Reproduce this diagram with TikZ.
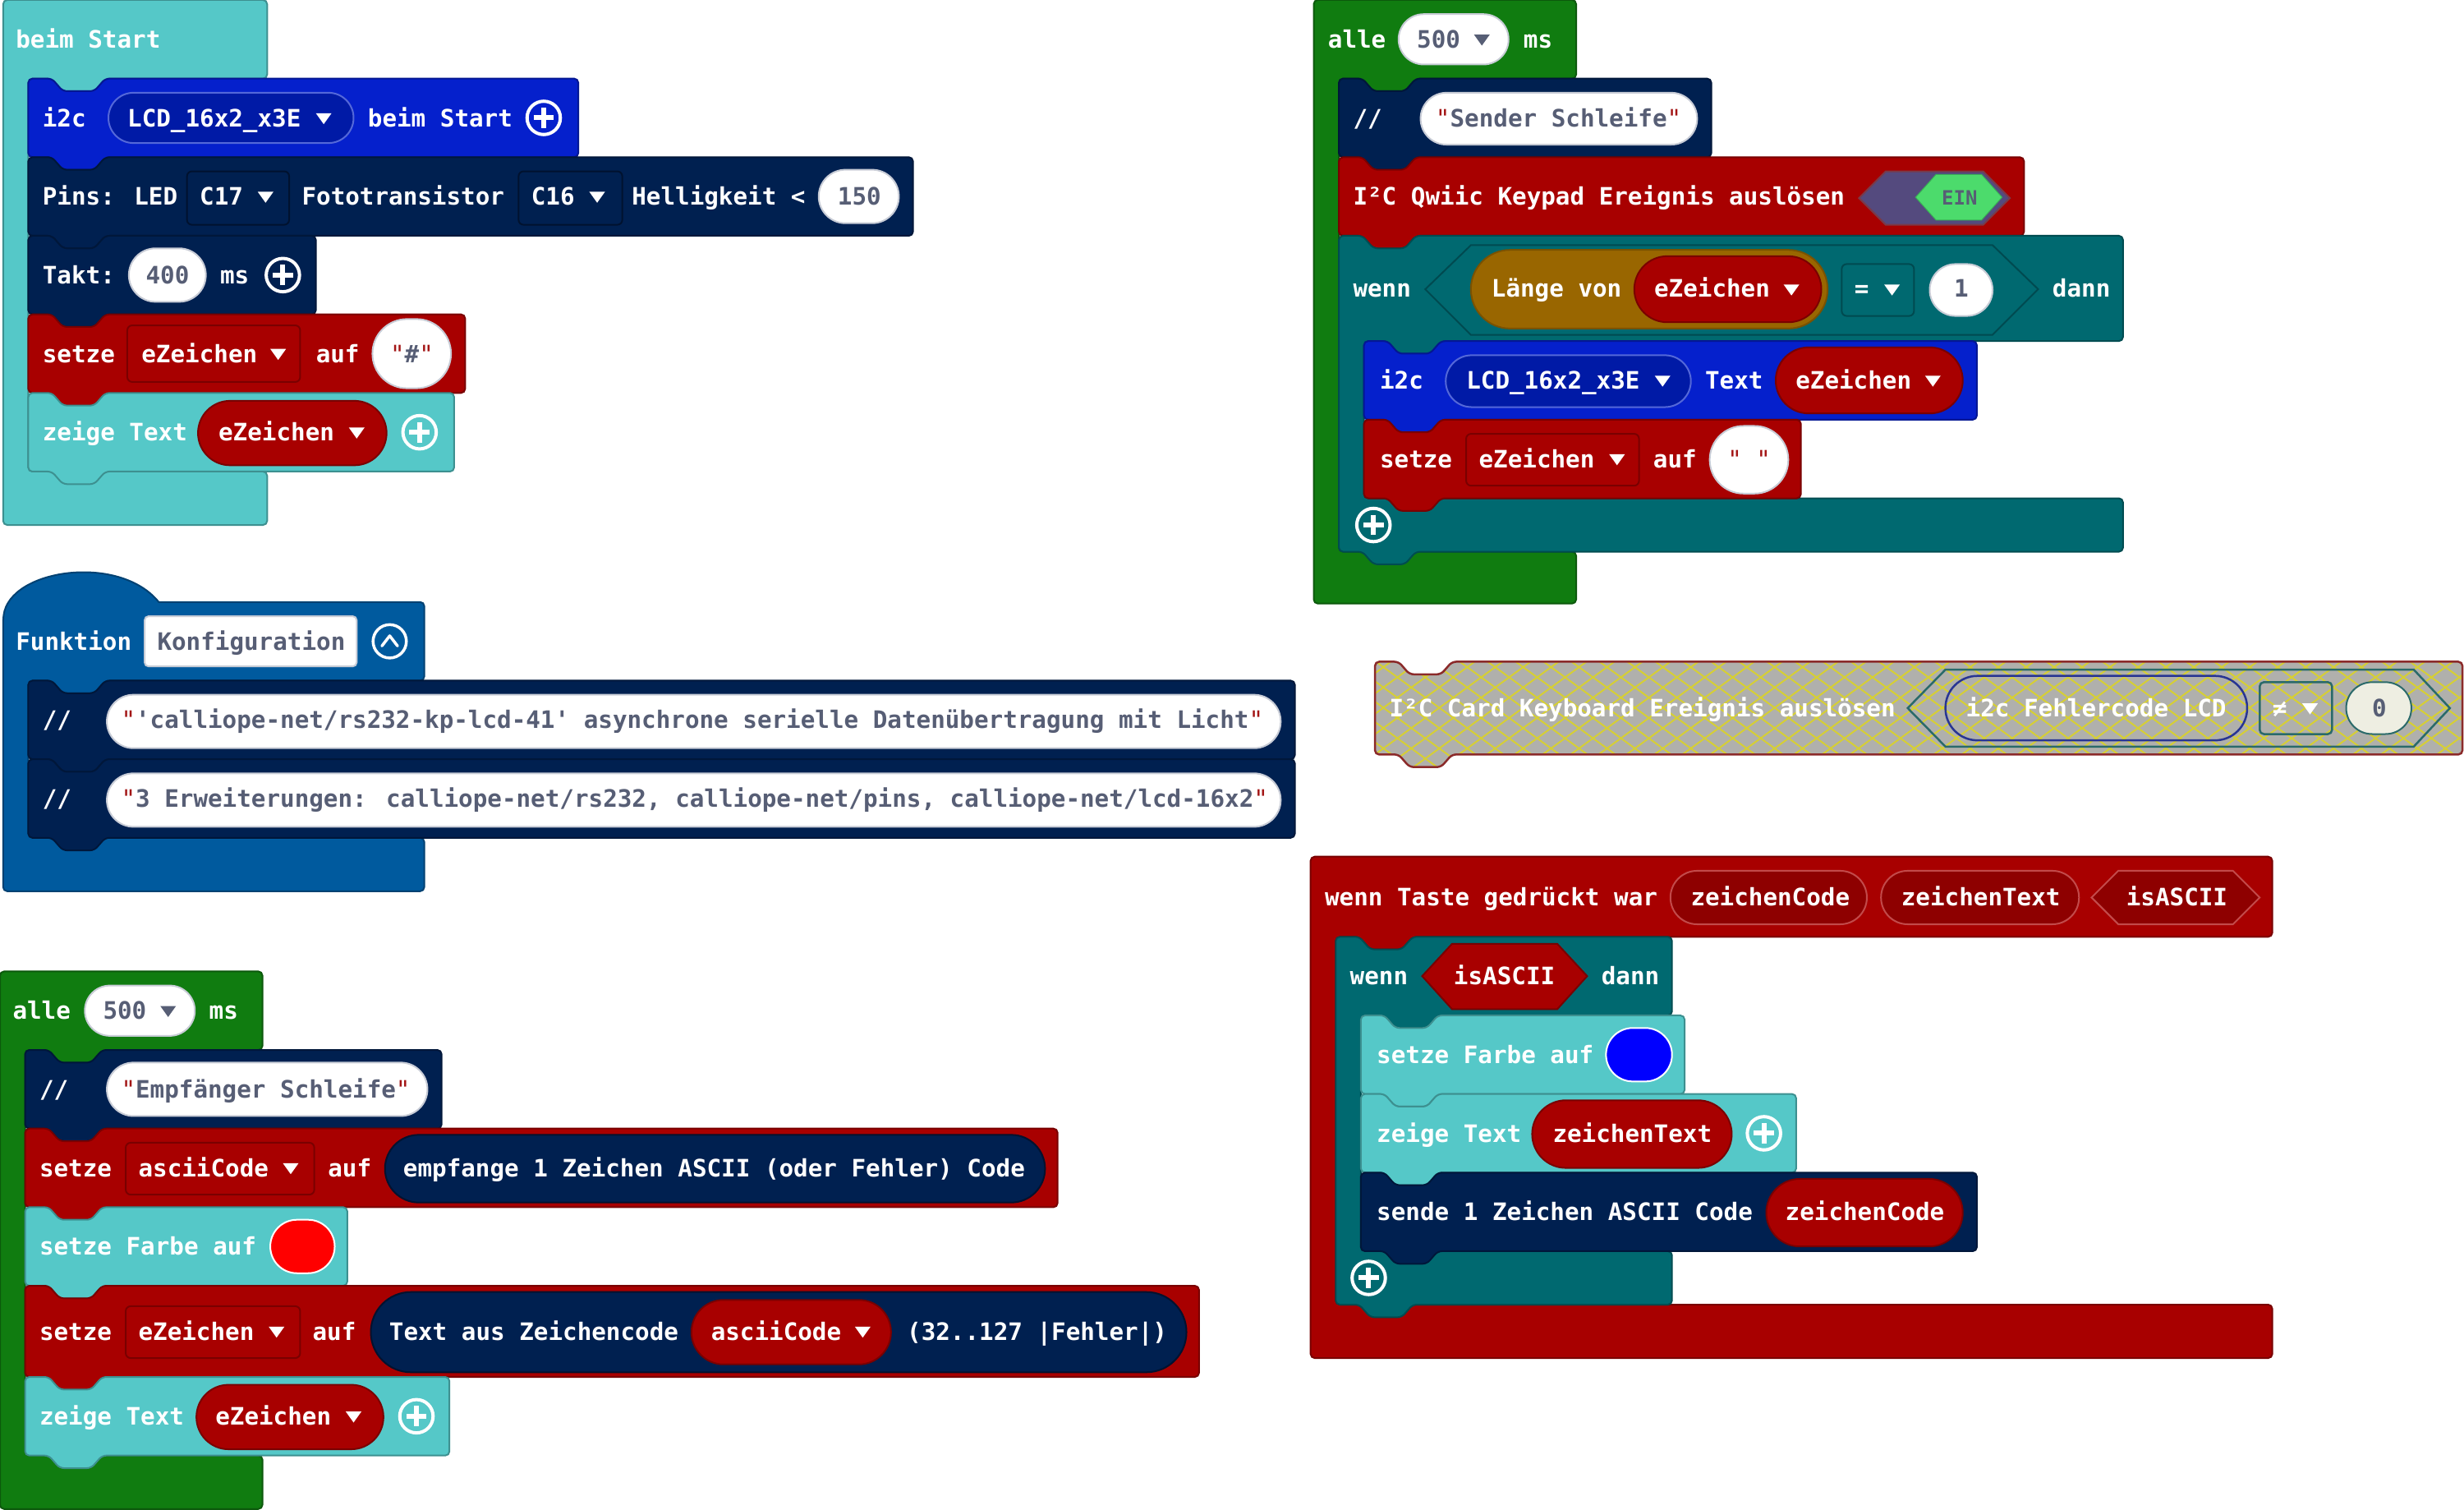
\documentclass[tikz,border=0pt]{standalone}
\usepackage{fontspec}
\newfontfamily\bfnt{DejaVu Sans Mono}
\usetikzlibrary{patterns.meta}
\definecolor{cTeal}{HTML}{55C8C8}
\definecolor{cBlue}{HTML}{0520CC}
\definecolor{cBlueDD}{HTML}{001AA6}
\definecolor{cBlueLine}{HTML}{5468D9}
\definecolor{cNavy}{HTML}{002050}
\definecolor{cNavyLine}{HTML}{00122F}
\definecolor{cRed}{HTML}{A80000}
\definecolor{cRedLine}{HTML}{7A0000}
\definecolor{cGreen}{HTML}{107C10}
\definecolor{cFunc}{HTML}{005A9E}
\definecolor{cLogic}{HTML}{006970}
\definecolor{cLogicLine}{HTML}{004A50}
\definecolor{cBrown}{HTML}{996600}
\definecolor{cBrownLine}{HTML}{7A5200}
\definecolor{cPurple}{HTML}{544A7E}
\definecolor{cPurpleLine}{HTML}{7A3A48}
\definecolor{cEin}{HTML}{4CDB6C}
\definecolor{cEinLine}{HTML}{3AB055}
\definecolor{cGrey}{HTML}{575E75}
\definecolor{cQuote}{HTML}{A31515}
\definecolor{cParam}{HTML}{8E0000}
\definecolor{cParamLine}{HTML}{C24A4A}
\definecolor{cPillLine}{HTML}{C8CCD6}
\definecolor{cDis}{HTML}{B0B0AC}
\definecolor{cDisY}{HTML}{D6CF34}
\definecolor{cDisLine}{HTML}{8B2A2A}
\definecolor{cDisHex}{HTML}{2A6A6A}
\definecolor{cDisPill}{HTML}{283593}
\definecolor{cDisZero}{HTML}{EEEEE2}
\def\uu{1.91327pt}
\newcounter{nn}
\newcommand\T[3][white]{\stepcounter{nn}\edef\tmpname{t\arabic{nn}}\node[lbl,text=#1] (\tmpname) at (#2) {#3};}
\newcommand\q{{\mdseries\color{cQuote}"}}
\newcommand\stmtpath[4]{(#1,#2) -- ({#1+15},#2) -- ({#1+22},{#2+8}) -- ({#1+42},{#2+8}) -- ({#1+49},#2) -- ({#1+#3},#2) -- ({#1+#3},{#2+#4}) -- ({#1+49},{#2+#4}) -- ({#1+42},{#2+#4+8}) -- ({#1+22},{#2+#4+8}) -- ({#1+15},{#2+#4}) -- (#1,{#2+#4}) -- cycle}
\newcommand\stmt[5]{\path[blk=#1] \stmtpath{#2}{#3}{#4}{#5};}
\newcommand\evtpath[6]{(#1,#2) -- ({#1+#3},#2) -- ({#1+#3},{#2+#4}) -- ({#1+65},{#2+#4}) -- ({#1+58},{#2+#4+8}) -- ({#1+38},{#2+#4+8}) -- ({#1+31},{#2+#4}) -- ({#1+16},{#2+#4}) -- ({#1+16},{#2+#4+#5}) -- ({#1+#3},{#2+#4+#5}) -- ({#1+#3},{#2+#4+#5+#6}) -- (#1,{#2+#4+#5+#6}) -- cycle}
\newcommand\nestpath[6]{(#1,#2) -- ({#1+15},#2) -- ({#1+22},{#2+8}) -- ({#1+42},{#2+8}) -- ({#1+49},#2) -- ({#1+#3},#2) -- ({#1+#3},{#2+#4}) -- ({#1+65},{#2+#4}) -- ({#1+58},{#2+#4+8}) -- ({#1+38},{#2+#4+8}) -- ({#1+31},{#2+#4}) -- ({#1+16},{#2+#4}) -- ({#1+16},{#2+#4+#5}) -- ({#1+#3},{#2+#4+#5}) -- ({#1+#3},{#2+#4+#5+#6}) -- ({#1+49},{#2+#4+#5+#6}) -- ({#1+42},{#2+#4+#5+#6+8}) -- ({#1+22},{#2+#4+#5+#6+8}) -- ({#1+15},{#2+#4+#5+#6}) -- (#1,{#2+#4+#5+#6}) -- cycle}
\newcommand\pill[6]{\path[fill=#1,draw=#2,line width=2pt,rounded corners={((#6)-(#4))*0.499*\uu}] (#3,#4) rectangle (#5,#6);}
\newcommand\ddbox[6]{\path[fill=#1,draw=#2,line width=2pt,rounded corners=6pt] (#3,#4) rectangle (#5,#6);}
\newcommand\tri[3]{\fill[#3] ({#1-5},{#2-3}) -- ({#1+5},{#2-3}) -- (#1,{#2+4}) -- cycle;}
\newcommand\plusicon[2]{\draw[white,line width=4pt] (#1,#2) circle (10.6); \draw[white,line width=6pt] ({#1-6.5},#2) -- ({#1+6.5},#2) (#1,{#2-6.5}) -- (#1,{#2+6.5});}
\begin{document}
\begin{tikzpicture}[x=1.91327pt,y=-1.91327pt,
  lbl/.style={anchor=base west,inner sep=0pt,font=\bfnt\bfseries\fontsize{29.24pt}{35pt}\selectfont},
  blk/.style={fill=#1,draw=#1!72!black,line width=2pt,rounded corners=5pt}]
\fill[white] (0,0) rectangle (1568,960.66);
\useasboundingbox (0,0) rectangle (1568,960.66);

% ---------- beim Start ----------
\path[blk=cTeal] \evtpath{2}{0}{168}{50}{250}{34};
\T{10,30.6}{beim Start}
\stmt{cBlue}{18}{50}{350}{50}
\T{27,80.6}{i2c}
\pill{cBlueDD}{cBlueLine}{69}{59}{225}{91}
\T{81,80.6}{LCD\_16x2\_x3E}
\tri{206}{75}{white}
\T{234,80.6}{beim Start}
\plusicon{346}{75}
\stmt{cNavy}{18}{100}{563}{50}
\T{27,130.6}{Pins: LED}
\ddbox{cNavy}{cNavyLine}{119}{109}{184}{143}
\T{127,130.6}{C17}
\tri{169}{125}{white}
\T{192,130.6}{Fototransistor}
\ddbox{cNavy}{cNavyLine}{330}{109}{396}{143}
\T{338,130.6}{C16}
\tri{380}{125}{white}
\T{402,130.6}{Helligkeit <}
\pill{white}{cPillLine}{521}{108}{572}{142}
\T[cGrey]{533,130.6}{150}
\stmt{cNavy}{18}{150}{183}{50}
\T{27,180.6}{Takt:}
\pill{white}{cPillLine}{82}{158}{131}{192}
\T[cGrey]{92.7,180.6}{400}
\T{140,180.6}{ms}
\plusicon{180}{175}
\stmt{cRed}{18}{200}{278}{50}
\T{27,230.6}{setze}
\ddbox{cRed}{cRedLine}{81}{207}{191}{243}
\T{90,230.6}{eZeichen}
\tri{177}{225}{white}
\T{201,230.6}{auf}
\pill{white}{cPillLine}{237}{203}{287}{247}
\T[cGrey]{248.2,230.6}{\q\#\q}
\stmt{cTeal}{18}{250}{271}{50}
\T{27,280.6}{zeige Text}
\pill{cRed}{cRedLine}{126}{255}{246}{296}
\T{139,280.6}{eZeichen}
\tri{227}{275}{white}
\plusicon{267}{275}

% ---------- Funktion ----------
\path[fill=cFunc,draw=cFunc!72!black,line width=2pt] (2,394) .. controls (6,362) and (76,352) .. (101,383) [rounded corners=5pt] -- (270,383) -- (270,433) -- (67,433) -- (60,441) -- (40,441) -- (33,433) -- (18,433) -- (18,533) -- (270,533) -- (270,567) -- (2,567) -- cycle;
\T{10,413.6}{Funktion}
\path[fill=white,draw=cPillLine,line width=2pt,rounded corners=5pt] (92,392) rectangle (227,424);
\T[cGrey]{100,413.6}{Konfiguration}
\draw[white,line width=3.5pt] (248,408) circle (10.6);
\draw[white,line width=3.5pt,line cap=round,line join=round] (243,411) -- (248,404.5) -- (253,411);
\stmt{cNavy}{18}{433}{806}{50}
\T{27,463.6}{//}
\pill{white}{cPillLine}{68}{442}{815}{476}
\T[cGrey]{77,463.6}{\q'calliope-net/rs232-kp-lcd-41' asynchrone serielle Datenübertragung mit Licht\q}
\stmt{cNavy}{18}{483}{806}{50}
\T{27,513.6}{//}
\pill{white}{cPillLine}{68}{492}{815}{526}
\T[cGrey]{77,513.6}{\q3 Erweiterungen: calliope-net/rs232, calliope-net/pins, calliope-net/lcd-16x2\q}

% ---------- alle (Empfaenger) ----------
\path[blk=cGreen] \evtpath{0}{618}{167}{50}{258}{34};
\T{8,648.6}{alle}
\pill{white}{cPillLine}{54}{627}{124}{659}
\T[cGrey]{65.5,648.6}{500}
\tri{107}{643}{cGrey}
\T{133,648.6}{ms}
\stmt{cNavy}{16}{668}{265}{50}
\T{25,698.6}{//}
\pill{white}{cPillLine}{68}{676}{272}{710}
\T[cGrey]{77,698.6}{\q Empfänger Schleife\q}
\stmt{cRed}{16}{718}{657}{50}
\T{25,748.6}{setze}
\ddbox{cRed}{cRedLine}{80}{727}{200}{760}
\T{88,748.6}{asciiCode}
\tri{185}{743}{white}
\T{208.6,748.6}{auf}
\pill{cNavy}{cNavyLine}{245}{722}{665}{765}
\T{256.5,748.6}{empfange 1 Zeichen ASCII (oder Fehler) Code}
\stmt{cTeal}{16}{768}{205}{50}
\T{25,798.6}{setze Farbe auf}
\pill{red}{white}{172}{776}{213}{810}
\stmt{cRed}{16}{818}{747}{58}
\T{25,852.6}{setze}
\ddbox{cRed}{cRedLine}{80}{831}{191}{864}
\T{88,852.6}{eZeichen}
\tri{176}{847}{white}
\T{198.8,852.6}{auf}
\pill{cNavy}{cNavyLine}{236}{822}{755}{873}
\T{247.6,852.6}{Text aus Zeichencode}
\pill{cRed}{cRedLine}{440}{827}{567}{868}
\T{452.4,852.6}{asciiCode}
\tri{549}{847}{white}
\T{577,852.6}{(32..127 |Fehler|)}
\stmt{cTeal}{16}{876}{270}{50}
\T{25,906.6}{zeige Text}
\pill{cRed}{cRedLine}{125}{881}{244}{922}
\T{137,906.6}{eZeichen}
\tri{225}{901}{white}
\plusicon{265}{901}

% ---------- alle (Sender) ----------
\path[blk=cGreen] \evtpath{836}{0}{167}{50}{301}{33};
\T{845,30.6}{alle}
\pill{white}{cPillLine}{890}{9}{960}{41}
\T[cGrey]{901.6,30.6}{500}
\tri{943}{25}{cGrey}
\T{969.4,30.6}{ms}
\stmt{cNavy}{852}{50}{237}{50}
\T{861,80.6}{//}
\pill{white}{cPillLine}{904}{59}{1080}{92}
\T[cGrey]{913.5,80.6}{\q Sender Schleife\q}
\stmt{cRed}{852}{100}{436}{50}
\T{861,130.6}{I²C Qwiic Keypad Ereignis auslösen}
\path[fill=cPurple,draw=cPurpleLine,line width=2pt] (1183,126) -- (1200,109) -- (1262,109) -- (1279,126) -- (1262,143) -- (1200,143) -- cycle;
\path[fill=cEin,draw=cEinLine,line width=1pt] (1219,125.5) -- (1232,111) -- (1261,111) -- (1274,125.5) -- (1261,140) -- (1232,140) -- cycle;
\node[lbl,anchor=base,text=cGrey,font=\bfnt\bfseries\fontsize{24pt}{28pt}\selectfont] (ein) at (1247,130.3) {EIN};
\path[blk=cLogic] \nestpath{852}{150}{499}{67}{100}{34};
\T{861,189.1}{wenn}
\path[fill=cLogic,draw=cLogicLine,line width=2pt] (907,184) -- (936,156) -- (1268,156) -- (1297,184) -- (1268,213) -- (936,213) -- cycle;
\pill{cBrown}{cBrownLine}{936}{159}{1163}{209}
\T{949,189.1}{Länge von}
\pill{cRed}{cRedLine}{1040}{163}{1159}{205}
\T{1052.6,189.1}{eZeichen}
\tri{1140}{184}{white}
\ddbox{cLogic}{cLogicLine}{1172}{168}{1218}{201}
\T{1180,189.1}{=}
\tri{1204}{184}{white}
\pill{white}{cPillLine}{1228}{168}{1268}{201}
\T[cGrey]{1243.4,189.1}{1}
\T{1306,189.1}{dann}
\stmt{cBlue}{868}{217}{390}{50}
\T{878,247.6}{i2c}
\pill{cBlueDD}{cBlueLine}{920}{226}{1076}{259}
\T{933,247.6}{LCD\_16x2\_x3E}
\tri{1058}{242}{white}
\T{1085,247.6}{Text}
\pill{cRed}{cRedLine}{1130}{221}{1249}{263}
\T{1142.6,247.6}{eZeichen}
\tri{1230}{242}{white}
\stmt{cRed}{868}{267}{278}{50}
\T{878,297.6}{setze}
\ddbox{cRed}{cRedLine}{933}{276}{1043}{309}
\T{941,297.6}{eZeichen}
\tri{1029}{292}{white}
\T{1052,297.6}{auf}
\pill{white}{cPillLine}{1088}{271}{1138}{314}
\T[cGrey]{1099.2,297.6}{\q\ \q}
\plusicon{874}{334}

% ---------- disabled block ----------
\path[fill=cDis,rounded corners=5pt] \stmtpath{875}{421}{692}{59};
\path[pattern={Lines[angle=36,distance=20pt,line width=2pt]},pattern color=cDisY,rounded corners=5pt] \stmtpath{875}{421}{692}{59};
\path[pattern={Lines[angle=-36,distance=20pt,line width=2pt]},pattern color=cDisY,rounded corners=5pt] \stmtpath{875}{421}{692}{59};
\path[draw=cDisLine,line width=2.5pt,rounded corners=5pt] \stmtpath{875}{421}{692}{59};
\T{884,456.1}{I²C Card Keyboard Ereignis auslösen}
\path[draw=cDisHex,line width=2.5pt] (1214,450.5) -- (1238,426) -- (1536,426) -- (1559,450.5) -- (1536,475) -- (1238,475) -- cycle;
\path[draw=cDisPill,line width=2.5pt,rounded corners=39pt] (1238,430) rectangle (1430,471);
\T{1251,456.1}{i2c Fehlercode LCD}
\path[draw=cDisHex,line width=2.5pt,rounded corners=5pt] (1438,434) rectangle (1484,467);
\T{1446,456.1}{≠}
\tri{1470}{450.5}{white}
\pill{cDisZero}{cDisHex}{1493}{434}{1534.5}{467}
\T[cGrey]{1509.4,456.1}{0}

% ---------- wenn Taste gedrueckt ----------
\path[blk=cRed] \evtpath{834}{545}{612}{51}{234}{34};
\T{843,576.1}{wenn Taste gedrückt war}
\pill{cParam}{cParamLine}{1063}{554}{1188}{588}
\T{1075.8,576.1}{zeichenCode}
\pill{cParam}{cParamLine}{1197}{554}{1323}{588}
\T{1209.8,576.1}{zeichenText}
\path[fill=cParam,draw=cParamLine,line width=2pt] (1331,571) -- (1348,554) -- (1421,554) -- (1438,571) -- (1421,588) -- (1348,588) -- cycle;
\T{1353,576.1}{isASCII}
\path[blk=cLogic] \nestpath{850}{596}{214}{50}{150}{34};
\T{859,626.6}{wenn}
\path[fill=cRed,draw=cRedLine,line width=2pt] (905,621) -- (924,600.5) -- (991,600.5) -- (1010,621) -- (991,642) -- (924,642) -- cycle;
\T{925,626.6}{isASCII}
\T{1019,626.6}{dann}
\stmt{cTeal}{866}{646}{206}{50}
\T{876,676.6}{setze Farbe auf}
\pill{blue}{white}{1022}{654}{1064}{688}
\stmt{cTeal}{866}{696}{277}{50}
\T{876,726.6}{zeige Text}
\pill{cRed}{cRedLine}{975}{700}{1102}{743}
\T{988,726.6}{zeichenText}
\plusicon{1122.5}{721}
\stmt{cNavy}{866}{746}{392}{50}
\T{876,776.6}{sende 1 Zeichen ASCII Code}
\pill{cRed}{cRedLine}{1124}{750}{1249}{793}
\T{1136,776.6}{zeichenCode}
\plusicon{871}{813}
\end{tikzpicture}
\end{document}
